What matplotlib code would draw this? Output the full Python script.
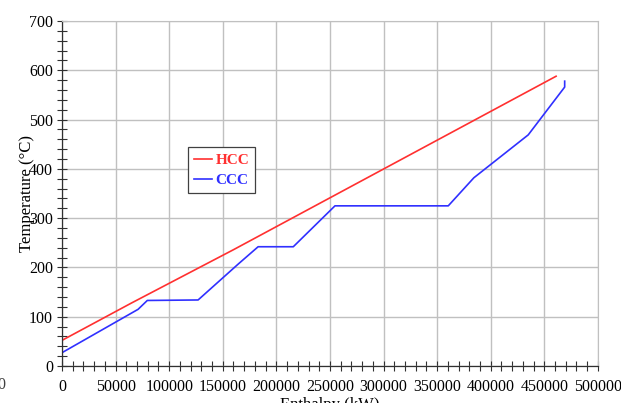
import matplotlib.pyplot as plt
from matplotlib.ticker import MultipleLocator

# composite curves (enthalpy in kW, temperature in degC)
hcc_h = [0, 0, 65000, 160000, 461000]
hcc_t = [45, 52, 128, 236, 588]

ccc_h = [0, 0, 71000, 79600, 127000, 164500, 183000, 215800, 254700,
         360400, 384300, 435000, 469000, 469000]
ccc_t = [0, 27, 115, 133, 134, 207, 242, 242, 325,
         325, 382, 469, 566, 578]

plt.rcParams["font.family"] = ["Liberation Serif", "DejaVu Serif"]
plt.rcParams["font.size"] = 11.5

fig = plt.figure(figsize=(6.21, 4.03), dpi=100)
ax = fig.add_axes([0.0998, 0.0918, 0.863, 0.856])

ax.plot(hcc_h, hcc_t, color="#ff3030", linewidth=1.2, label="HCC")
ax.plot(ccc_h, ccc_t, color="#3030ff", linewidth=1.2, label="CCC")

ax.set_xlim(0, 500000)
ax.set_ylim(0, 700)
ax.xaxis.set_major_locator(MultipleLocator(50000))
ax.xaxis.set_minor_locator(MultipleLocator(10000))
ax.yaxis.set_major_locator(MultipleLocator(100))
ax.yaxis.set_minor_locator(MultipleLocator(20))
ax.tick_params(which="both", direction="inout", length=7, width=0.8,
               color="#303030", top=False, right=False)
ax.tick_params(axis="x", pad=6)
ax.tick_params(axis="y", pad=3)

ax.grid(True, which="major", color="#c0c0c0", linewidth=1.0)
ax.set_axisbelow(True)
for side in ["top", "right"]:
    ax.spines[side].set_color("#c0c0c0")
for side in ["left", "bottom"]:
    ax.spines[side].set_color("#303030")
    ax.spines[side].set_linewidth(0.9)

ax.set_xlabel("Enthalpy (kW)", fontsize=12, labelpad=1)
ax.set_ylabel("Temperature (°C)", fontsize=12, labelpad=-4)

leg = ax.legend(loc="lower left", bbox_to_anchor=(0.235, 0.501), borderaxespad=0,
                fancybox=False, framealpha=1, edgecolor="#404040",
                handlelength=1.2, handletextpad=0.2, borderpad=0.4,
                labelspacing=0.4, prop={"weight": "bold", "size": 11})
leg.get_frame().set_linewidth(0.9)
for txt, line in zip(leg.get_texts(), leg.get_lines()):
    txt.set_color(line.get_color())

fig.text(-0.004, 0.035, "0", fontsize=11.5, color="#404040")

fig.savefig("out.png", dpi=100)
